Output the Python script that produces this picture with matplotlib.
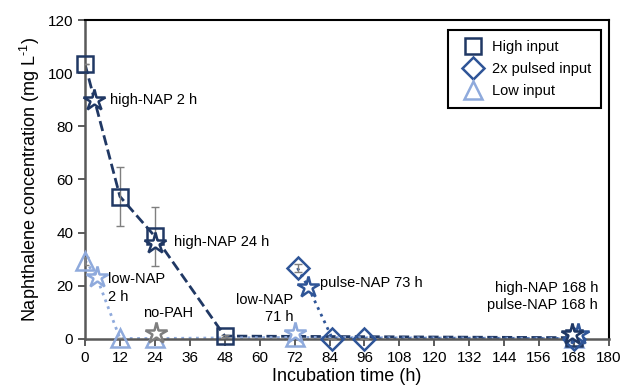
import numpy as np
import matplotlib
matplotlib.use('Agg')
import matplotlib.pyplot as plt
from matplotlib.lines import Line2D

plt.rcParams['font.family'] = ['Liberation Sans', 'DejaVu Sans']
plt.rcParams['mathtext.default'] = 'regular'
plt.rcParams['axes.unicode_minus'] = False

# high input (squares)
high_t   = [0, 12, 24, 48, 168]
high_c   = [103.4, 53.6, 38.6, 1.1, 0.5]
high_err = [0, 11, 11, 0.5, 0.3]
# 2x pulsed input (diamonds)
pulse_t   = [73, 85, 96, 168]
pulse_c   = [26.7, 0.1, 0.1, 0.1]
pulse_err = [1.5, 0, 0, 0]
# low input (triangles)
low_t   = [0, 12, 24, 72, 168]
low_c   = [29.5, 0.2, 0.2, 0.6, 0.2]
low_err = [1.5, 0, 0, 1.5, 0]
# sampling stars
hnap_t = [3.2, 24, 167.3]; hnap_c = [89.9, 36, 1.8]
pnap_t = [76.7, 169.5];    pnap_c = [19.5, 1.8]
lnap_t = [4, 72.2];        lnap_c = [23.3, 2.3]
nopah_t = [24.3];          nopah_c = [2.2]

navy  = '#203864'
mid   = '#2F5597'
light = '#8FAADC'
grey  = '#7F7F7F'

fig = plt.figure(figsize=(6.22, 3.9), dpi=100)
ax = fig.add_axes([0.1367, 0.1308, 0.8423, 0.8179])

# lines
ax.plot(high_t, high_c, '--', color=navy, lw=2, zorder=2)
ax.plot([low_t[0], lnap_t[0]] + low_t[1:], [low_c[0], lnap_c[0]] + low_c[1:],
        ':', color=light, lw=2, zorder=2)
ax.plot([pulse_t[0], pnap_t[0]] + pulse_t[1:], [pulse_c[0], pnap_c[0]] + pulse_c[1:],
        ':', color=mid, lw=2, zorder=2)

# error bars
for t, c, e in [(high_t, high_c, high_err), (pulse_t, pulse_c, pulse_err), (low_t, low_c, low_err)]:
  ax.errorbar(t, c, yerr=e, fmt='none', ecolor=grey, elinewidth=1, capsize=3, zorder=3)

ax.plot(low_t, low_c, '^', ms=13, mfc='none', mec=light, mew=1.8, ls='none', zorder=4, clip_on=False)
ax.plot(high_t, high_c, 's', ms=12, mfc='none', mec=navy, mew=1.8, ls='none', zorder=4, clip_on=False)
ax.plot(pulse_t, pulse_c, 'D', ms=11, mfc='none', mec=mid, mew=1.8, ls='none', zorder=4, clip_on=False)

star = dict(marker='*', ms=16, mfc='white', mew=1.8, ls='none', zorder=5, clip_on=False)
ax.plot(nopah_t, nopah_c, mec=grey, **star)
ax.plot(lnap_t, lnap_c, mec=light, **star)
ax.plot(pnap_t, pnap_c, mec=mid, **star)
ax.plot(hnap_t, hnap_c, mec=navy, **star)

fs = 10.5
ax.text(8.6, 90, 'high-NAP 2 h', fontsize=fs, va='center')
ax.text(30.6, 36.5, 'high-NAP 24 h', fontsize=fs, va='center')
ax.text(7.9, 19.2, 'low-NAP\n2 h', fontsize=fs, va='center', linespacing=1.3)
ax.text(28.5, 9.8, 'no-PAH', fontsize=fs, va='center', ha='center')
ax.text(71.5, 11.5, 'low-NAP\n71 h', fontsize=fs, va='center', ha='right', multialignment='right', linespacing=1.3)
ax.text(80.7, 21, 'pulse-NAP 73 h', fontsize=fs, va='center')
ax.text(176.2, 16, 'high-NAP 168 h\npulse-NAP 168 h', fontsize=fs, va='center', ha='right',
        multialignment='right', linespacing=1.3)

ax.set_xlim(0, 180)
ax.set_ylim(0, 120)
ax.set_xticks(np.arange(0, 181, 12))
ax.set_yticks(np.arange(0, 121, 20))
ax.tick_params(direction='out', length=5, width=1.2, colors='#404040', labelsize=11, labelcolor='black')
for s in ['left', 'bottom']:
  ax.spines[s].set_color('#595959'); ax.spines[s].set_linewidth(1.8)
for s in ['top', 'right']:
  ax.spines[s].set_color('black'); ax.spines[s].set_linewidth(1.5)

ax.set_xlabel('Incubation time (h)', fontsize=13, labelpad=2)
ax.set_ylabel('Naphthalene concentration (mg L$^{\u2010\u20091}$)'.replace('\u2009', ''), fontsize=13, labelpad=4)

handles = [Line2D([], [], marker='s', ms=12, mfc='none', mec=navy, mew=1.8, ls='none'),
           Line2D([], [], marker='D', ms=11, mfc='none', mec=mid, mew=1.8, ls='none'),
           Line2D([], [], marker='^', ms=13, mfc='none', mec=light, mew=1.8, ls='none')]
leg = ax.legend(handles, ['High input', '2x pulsed input', 'Low input'], loc='upper right',
                bbox_to_anchor=(0.985, 0.969), borderaxespad=0, fontsize=10.5, fancybox=False,
                framealpha=1, edgecolor='black', handletextpad=0.3, borderpad=0.7, labelspacing=0.55)
leg.get_frame().set_linewidth(1.5)

fig.savefig('out.png', dpi=100)
